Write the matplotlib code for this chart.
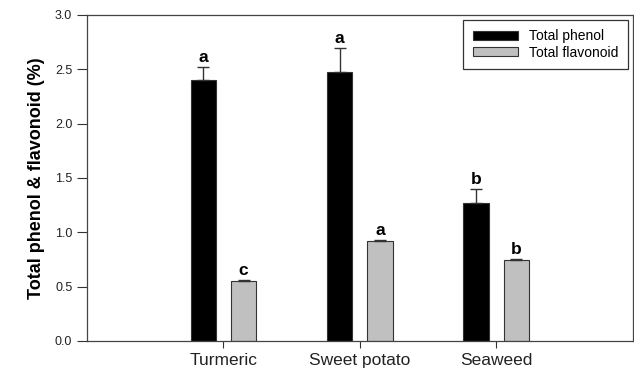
import numpy as np
import matplotlib
matplotlib.use("Agg")
import matplotlib.pyplot as plt

plt.rcParams['font.family'] = ['Liberation Sans', 'DejaVu Sans']

# Data
samples = ['Turmeric', 'Sweet potato', 'Seaweed']
phenol = [2.40, 2.475, 1.27]
phenol_err = [0.12, 0.22, 0.13]
flavonoid = [0.552, 0.923, 0.745]
flavonoid_err = [0.01, 0.005, 0.008]
phenol_letters = ['a', 'a', 'b']
flavonoid_letters = ['c', 'a', 'b']

x = np.arange(1, len(samples) + 1)
w = 0.185
off = 0.148

fig = plt.figure(figsize=(6.34, 3.71), dpi=100)
ax = fig.add_axes([0.137, 0.081, 0.861, 0.879])

ax.bar(x - off, phenol, w, color='black', edgecolor='#333333', linewidth=0.8,
       yerr=[np.zeros(3), phenol_err], error_kw=dict(ecolor='#333333', elinewidth=1, capsize=4, capthick=1),
       label='Total phenol')
ax.bar(x + off, flavonoid, w, color='#c0c0c0', edgecolor='#333333', linewidth=0.8,
       yerr=[np.zeros(3), flavonoid_err], error_kw=dict(ecolor='#333333', elinewidth=1, capsize=4, capthick=1),
       label='Total flavonoid')

for i in range(len(samples)):
    ax.text(x[i] - off, phenol[i] + phenol_err[i] + 0.015, phenol_letters[i],
            ha='center', va='bottom', fontsize=12.5, fontweight='bold')
    ax.text(x[i] + off, flavonoid[i] + flavonoid_err[i] + 0.015, flavonoid_letters[i],
            ha='center', va='bottom', fontsize=12.5, fontweight='bold')

ax.set_xlim(0, 4)
ax.set_ylim(0, 3.0)
ax.set_xticks(x)
ax.set_xticklabels(samples, fontsize=12.5, color='#222222')
ax.set_yticks(np.arange(0, 3.01, 0.5))
ax.set_yticklabels(['%.1f' % v for v in np.arange(0, 3.01, 0.5)], fontsize=9, color='#222222')
ax.tick_params(axis='y', direction='out', length=7, width=0.8, color='#333333')
ax.tick_params(axis='x', direction='out', length=5, width=0.8, color='#333333')
for s in ax.spines.values():
    s.set_color('#444444')
    s.set_linewidth(0.9)

ax.set_ylabel('Total phenol & flavonoid (%)', fontsize=13, fontweight='bold', labelpad=7)

leg = ax.legend(loc='upper right', fontsize=10, frameon=True, fancybox=False,
                edgecolor='black', handlelength=3.2, handleheight=0.6,
                borderaxespad=0.35, borderpad=0.7, labelspacing=0.15)
leg.get_frame().set_linewidth(0.9)

fig.savefig('out.png', dpi=100)
